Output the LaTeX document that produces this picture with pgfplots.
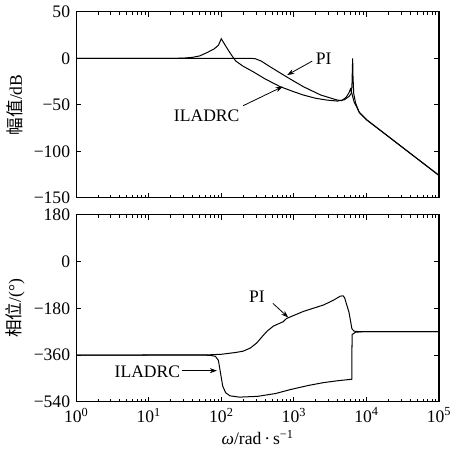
\documentclass[border=0pt]{standalone}
\usepackage{fontspec}
\setmainfont{Liberation Serif}
\newfontfamily\cjk{Noto Sans CJK SC}
\usepackage{pgfplots}
\pgfplotsset{compat=1.18}
\usetikzlibrary{arrows.meta}

\tikzset{ann/.style={-{Stealth[length=7pt,width=5pt]}, line width=0.8pt}}

\begin{document}
\fontsize{17.5}{21}\selectfont
\begin{tikzpicture}
% magnitude
\begin{axis}[name=top,
  scale only axis, width=361pt, height=185pt,
  xmode=log, xmin=1, xmax=100000,
  xtick={1,10,100,1000,10000,100000},
  minor xtick={},
  tick align=inside, major tick length=5pt,
  axis line style={line width=1.2pt},
  tick style={line width=0.8pt, black},
  ymin=-150, ymax=50, ytick={-150,-100,-50,0,50},
  yticklabels={−150,−100,−50,0,50}, xticklabels={},
  ylabel={{\cjk 幅值}/dB},
  ylabel style={at={(axis description cs:-0.168,0.5)}, anchor=center}]
\addplot[black, line width=1pt] coordinates {(1,0) (10,0) (25,0) (31.6,0.3) (39.8,1) (50.1,2.5) (63.1,6)
  (79.4,10) (91.2,14) (100,21) (117.5,12) (138,3.5) (158.5,-3) (199.5,-8.5)
  (275.4,-14.5) (398,-22) (645.7,-30.5) (1000,-36) (1349,-39.5) (1995,-43)
  (2884,-45) (3981,-46) (5012,-44.5) (5754,-41) (6166,-38) (6310,-30) (6383,-15)
  (6457,0) (6531,-20) (6683,-38) (7079,-48) (7943,-58) (10000,-66) (31623,-96)
  (100000,-126)};
\addplot[black, line width=1pt] coordinates {(1,0) (100,0) (251,0) (295,-0.5) (355,-3) (468,-9) (794,-20)
  (1349,-30.5) (2344,-39.5) (3981,-45) (4571,-45.5) (5248,-42) (5754,-37)
  (6026,-33) (6310,-38) (6761,-47) (7413,-53) (7943,-58) (10000,-66)
  (31623,-96) (100000,-126)};
\node at (axis cs:2570,0) {PI};
\draw[ann] (axis cs:1790,-3) -- (axis cs:810,-18);
\node at (axis cs:63,-62) {ILADRC};
\draw[ann] (axis cs:200,-51) -- (axis cs:700,-30.5);
\end{axis}
% phase
\begin{axis}[at={(top.south west)}, anchor=north west, yshift=-17pt,
  scale only axis, width=361pt, height=186pt,
  xmode=log, xmin=1, xmax=100000,
  xtick={1,10,100,1000,10000,100000},
  minor xtick={},
  tick align=inside, major tick length=5pt,
  axis line style={line width=1.2pt},
  tick style={line width=0.8pt, black},
  ymin=-540, ymax=180, ytick={-540,-360,-180,0,180},
  yticklabels={−540,−360,−180,0,180},
  xticklabels={10\textsuperscript{0},10\textsuperscript{1},10\textsuperscript{2},
    10\textsuperscript{3},10\textsuperscript{4},10\textsuperscript{5}},
  ylabel={{\cjk 相位}/(°)},
  ylabel style={at={(axis description cs:-0.168,0.5)}, anchor=center},
  xlabel={\textit{ω}/rad\,·\,s\textsuperscript{−1}},
  xlabel style={at={(axis description cs:0.5,-0.19)}, anchor=center}]
\addplot[black, line width=1pt] coordinates {(1,-360) (63,-359.5) (100,-357) (158,-350) (200,-345)
  (251,-333) (309,-313) (363,-290) (427,-268) (525,-248) (708,-232) (794,-219)
  (1349,-192) (2570,-167) (3548,-148) (4365,-133) (4786,-132) (5012,-140)
  (5754,-196) (6310,-259) (6761,-268) (7943,-270) (100000,-270)};
\addplot[black, line width=1pt] coordinates {(1,-360) (50,-360) (70.8,-361) (83,-365) (91.2,-380)
  (97.7,-430) (104.7,-480) (114.8,-505) (131.8,-517) (177.8,-522) (316,-519)
  (562,-508) (891,-493) (1585,-477) (2570,-466) (3981,-459) (6310,-453)
  (6330,-281) (7079,-272) (8913,-270) (100000,-270)};
\node at (axis cs:310,-137) {PI};
\draw[ann] (axis cs:515,-161) -- (axis cs:835,-215);
\node at (axis cs:9.6,-424) {ILADRC};
\draw[ann] (axis cs:28.5,-420) -- (axis cs:87,-420);
\end{axis}
\end{tikzpicture}
\end{document}
